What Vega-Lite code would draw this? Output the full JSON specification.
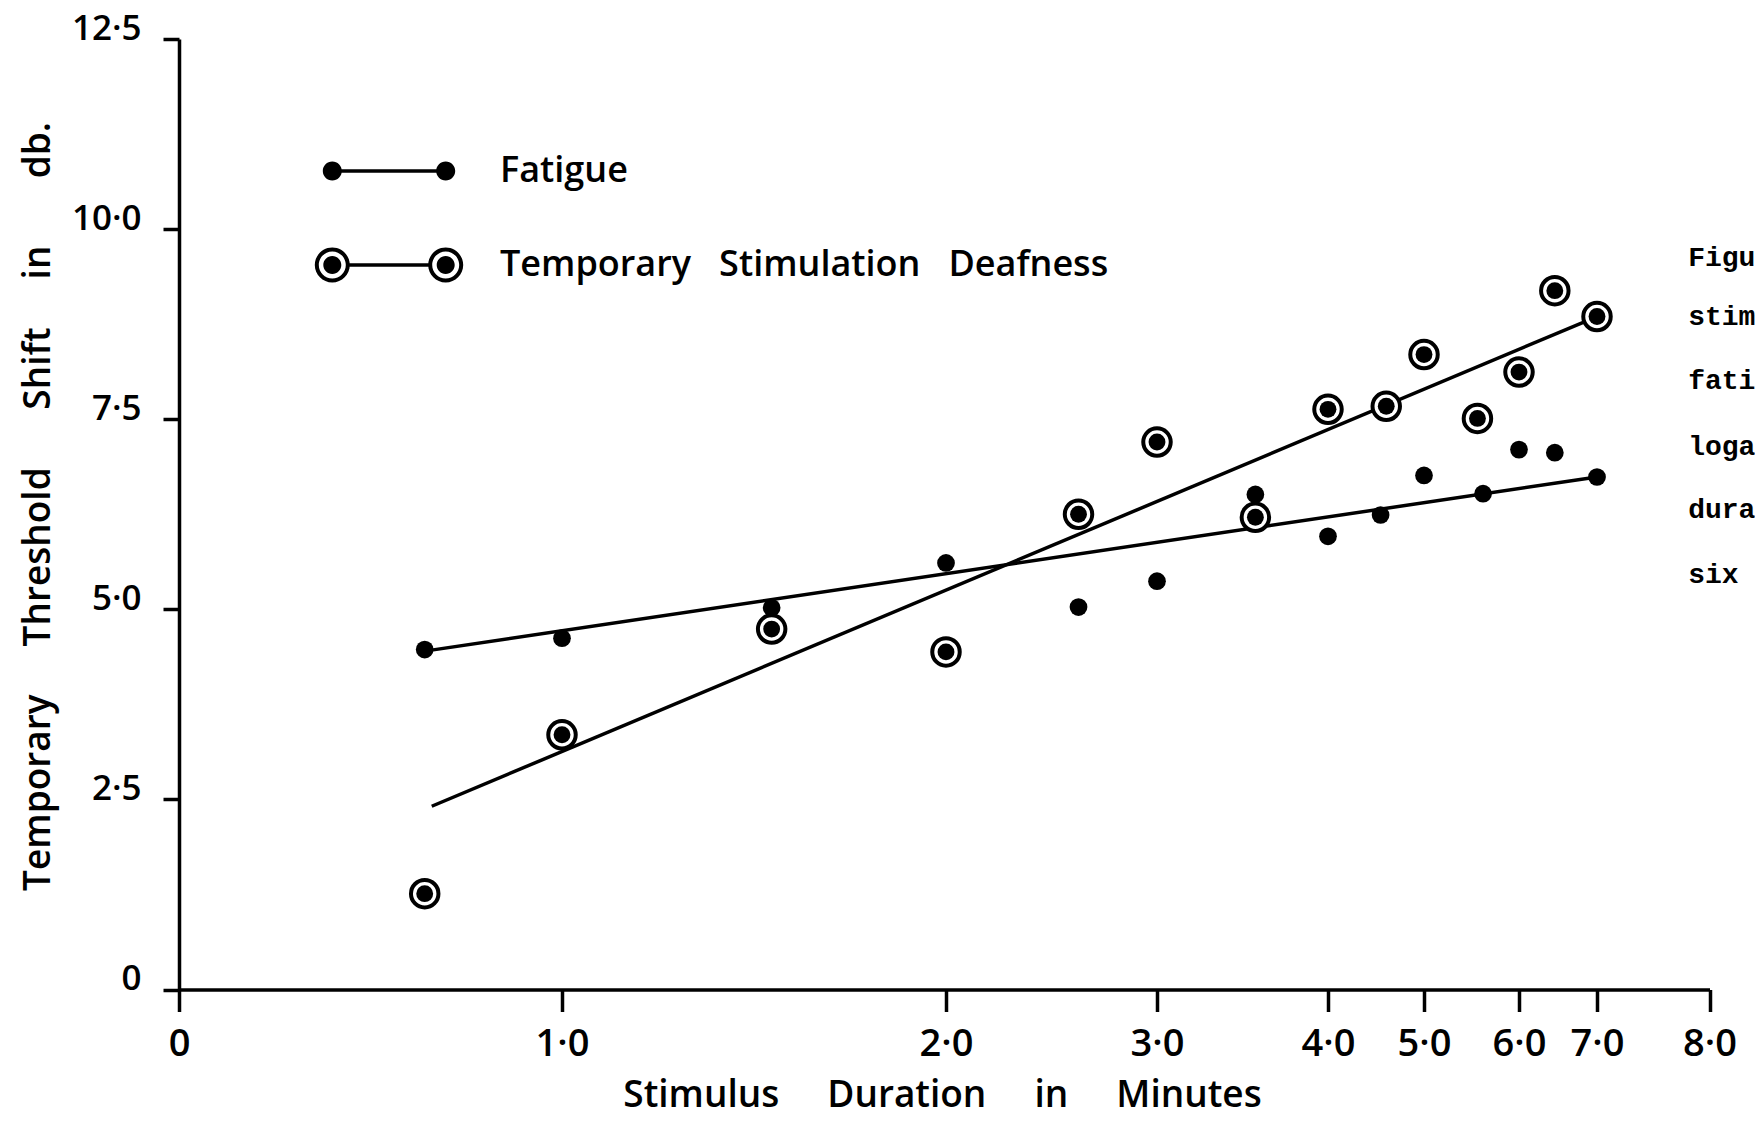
{
  "$schema": "https://vega.github.io/schema/vega-lite/v6.json",
  "autosize": {"type": "none"},
  "padding": {"left": 179, "top": 39, "right": 45, "bottom": 132},
  "width": 1531,
  "height": 950.5,
  "background": "white",
  "config": {
    "view": {"stroke": null},
    "font": "Open Sans",
    "axis": {
      "grid": false,
      "domainColor": "black",
      "domainWidth": 3.5,
      "tickColor": "black",
      "tickWidth": 3.5,
      "labelColor": "black",
      "titleColor": "black",
      "labelFont": "Open Sans",
      "titleFont": "Open Sans",
      "labelFontWeight": 600,
      "titleFontWeight": 600,
      "labelFlush": false,
      "labelOverlap": false
    }
  },
  "datasets": {
    "points": [
      {"series": "Fatigue", "x": 0.78, "y": 4.47},
      {"series": "Fatigue", "x": 1.0, "y": 4.62},
      {"series": "Fatigue", "x": 1.46, "y": 5.02},
      {"series": "Fatigue", "x": 2.0, "y": 5.61},
      {"series": "Fatigue", "x": 2.58, "y": 5.03},
      {"series": "Fatigue", "x": 3.0, "y": 5.37},
      {"series": "Fatigue", "x": 3.54, "y": 6.51},
      {"series": "Fatigue", "x": 4.0, "y": 5.96},
      {"series": "Fatigue", "x": 4.52, "y": 6.24},
      {"series": "Fatigue", "x": 5.0, "y": 6.76},
      {"series": "Fatigue", "x": 5.6, "y": 6.52},
      {"series": "Fatigue", "x": 6.0, "y": 7.1},
      {"series": "Fatigue", "x": 6.44, "y": 7.06},
      {"series": "Fatigue", "x": 7.0, "y": 6.74},
      {"series": "Temporary Stimulation Deafness", "x": 0.78, "y": 1.26},
      {"series": "Temporary Stimulation Deafness", "x": 1.0, "y": 3.35},
      {"series": "Temporary Stimulation Deafness", "x": 1.46, "y": 4.74},
      {"series": "Temporary Stimulation Deafness", "x": 2.0, "y": 4.44},
      {"series": "Temporary Stimulation Deafness", "x": 2.58, "y": 6.25},
      {"series": "Temporary Stimulation Deafness", "x": 3.0, "y": 7.2},
      {"series": "Temporary Stimulation Deafness", "x": 3.54, "y": 6.21},
      {"series": "Temporary Stimulation Deafness", "x": 4.0, "y": 7.63},
      {"series": "Temporary Stimulation Deafness", "x": 4.58, "y": 7.67},
      {"series": "Temporary Stimulation Deafness", "x": 5.0, "y": 8.35},
      {"series": "Temporary Stimulation Deafness", "x": 5.54, "y": 7.51},
      {"series": "Temporary Stimulation Deafness", "x": 6.0, "y": 8.12},
      {"series": "Temporary Stimulation Deafness", "x": 6.44, "y": 9.19},
      {"series": "Temporary Stimulation Deafness", "x": 7.0, "y": 8.85}
    ],
    "fits": [
      {"series": "Fatigue", "x": 0.78, "y": 4.45},
      {"series": "Fatigue", "x": 7.0, "y": 6.74},
      {"series": "Temporary Stimulation Deafness", "x": 0.79, "y": 2.41},
      {"series": "Temporary Stimulation Deafness", "x": 7.0, "y": 8.85}
    ],
    "caption": [
      {"t": "Figu", "x": 7.8, "y": 9.62},
      {"t": "stim", "x": 7.8, "y": 8.85},
      {"t": "fati", "x": 7.8, "y": 8.0},
      {"t": "loga", "x": 7.8, "y": 7.14},
      {"t": "dura", "x": 7.8, "y": 6.3},
      {"t": "six", "x": 7.8, "y": 5.45}
    ]
  },
  "encoding": {
    "x": {
      "field": "x",
      "type": "quantitative",
      "scale": {
        "type": "log",
        "domain": [0.5, 1, 2, 3, 4, 5, 6, 7, 8],
        "range": [0, 383, 767, 978, 1149, 1245, 1340, 1418, 1530.5],
        "nice": false,
        "zero": false
      },
      "axis": {
        "values": [0.5, 1, 2, 3, 4, 5, 6, 7, 8],
        "labelExpr": "datum.value < 0.9 ? '0' : replace(format(datum.value, '.1f'), '.', '·')",
        "tickSize": 22,
        "labelPadding": 14,
        "labelFontSize": 38,
        "title": "Stimulus\u00a0\u00a0\u00a0\u00a0\u00a0Duration\u00a0\u00a0\u00a0\u00a0\u00a0in\u00a0\u00a0\u00a0\u00a0\u00a0Minutes",
        "titleFontSize": 37,
        "titleX": 763,
        "titleY": 88
      }
    },
    "y": {
      "field": "y",
      "type": "quantitative",
      "scale": {"domain": [0, 12.5], "nice": false, "zero": true},
      "axis": {
        "values": [0, 2.5, 5, 7.5, 10, 12.5],
        "labelExpr": "datum.value == 0 ? '0' : replace(format(datum.value, '.1f'), '.', '·')",
        "tickSize": 16,
        "labelPadding": 22,
        "labelFontSize": 35,
        "labelOffset": -11,
        "title": "Temporary\u00a0\u00a0\u00a0\u00a0\u00a0Threshold\u00a0\u00a0\u00a0\u00a0\u00a0\u00a0Shift\u00a0\u00a0\u00a0\u00a0\u00a0in\u00a0\u00a0\u00a0\u00a0\u00a0\u00a0\u00a0db.",
        "titleFontSize": 37,
        "titleX": -122,
        "titleY": 467
      }
    }
  },
  "layer": [
    {
      "data": {"name": "fits"},
      "mark": {"type": "line", "color": "black", "strokeWidth": 3.5},
      "encoding": {"detail": {"field": "series", "type": "nominal"}}
    },
    {
      "data": {"name": "points"},
      "transform": [{"filter": "datum.series == 'Fatigue'"}],
      "mark": {"type": "point", "shape": "circle", "filled": true, "color": "black", "opacity": 1, "size": 314, "strokeWidth": 0}
    },
    {
      "data": {"name": "points"},
      "transform": [{"filter": "datum.series != 'Fatigue'"}],
      "mark": {"type": "point", "shape": "circle", "filled": true, "fill": "white", "stroke": "black", "strokeWidth": 4, "opacity": 1, "fillOpacity": 1, "size": 755}
    },
    {
      "data": {"name": "points"},
      "transform": [{"filter": "datum.series != 'Fatigue'"}],
      "mark": {"type": "point", "shape": "circle", "filled": true, "color": "black", "opacity": 1, "size": 284, "strokeWidth": 0}
    },
    {
      "data": {"name": "points"},
      "mark": {"type": "point", "filled": true, "color": "black", "opacity": 0},
      "encoding": {
        "shape": {
          "field": "series",
          "type": "nominal",
          "scale": {
            "domain": ["Fatigue", "Temporary Stimulation Deafness"],
            "range": [
              "M-5.67,-0.17H5.67V0.17H-5.67Z M-6.62,0A0.95,0.95,0,1,1,-4.72,0A0.95,0.95,0,1,1,-6.62,0Z M4.72,0A0.95,0.95,0,1,1,6.62,0A0.95,0.95,0,1,1,4.72,0Z",
              "M-7.42,0A1.75,1.75,0,1,1,-3.92,0A1.75,1.75,0,1,1,-7.42,0Z M-7.02,0A1.35,1.35,0,1,0,-4.32,0A1.35,1.35,0,1,0,-7.02,0Z M-6.57,0A0.9,0.9,0,1,1,-4.77,0A0.9,0.9,0,1,1,-6.57,0Z M3.92,0A1.75,1.75,0,1,1,7.42,0A1.75,1.75,0,1,1,3.92,0Z M4.32,0A1.35,1.35,0,1,0,7.02,0A1.35,1.35,0,1,0,4.32,0Z M4.77,0A0.9,0.9,0,1,1,6.57,0A0.9,0.9,0,1,1,4.77,0Z M-4.1,-0.17H4.1V0.17H-4.1Z"
            ]
          },
          "legend": {
            "title": null,
            "orient": "none",
            "legendX": 192,
            "legendY": 114,
            "padding": 0,
            "symbolSize": 400,
            "symbolFillColor": "black",
            "symbolStrokeColor": "black",
            "symbolStrokeWidth": 0,
            "symbolOpacity": 1,
            "labelFont": "Open Sans",
            "labelFontSize": 36,
            "labelFontWeight": 600,
            "labelColor": "black",
            "labelLimit": 0,
            "labelOffset": 93,
            "rowPadding": 58,
            "labelExpr": "datum.label == 'Fatigue' ? 'Fatigue' : 'Temporary\u00a0\u00a0\u00a0Stimulation\u00a0\u00a0\u00a0Deafness'"
          }
        }
      }
    },
    {
      "data": {"name": "caption"},
      "mark": {"type": "text", "align": "left", "baseline": "middle", "font": "Liberation Mono", "fontWeight": "bold", "fontSize": 28, "color": "black"},
      "encoding": {"text": {"field": "t", "type": "nominal"}}
    }
  ]
}
